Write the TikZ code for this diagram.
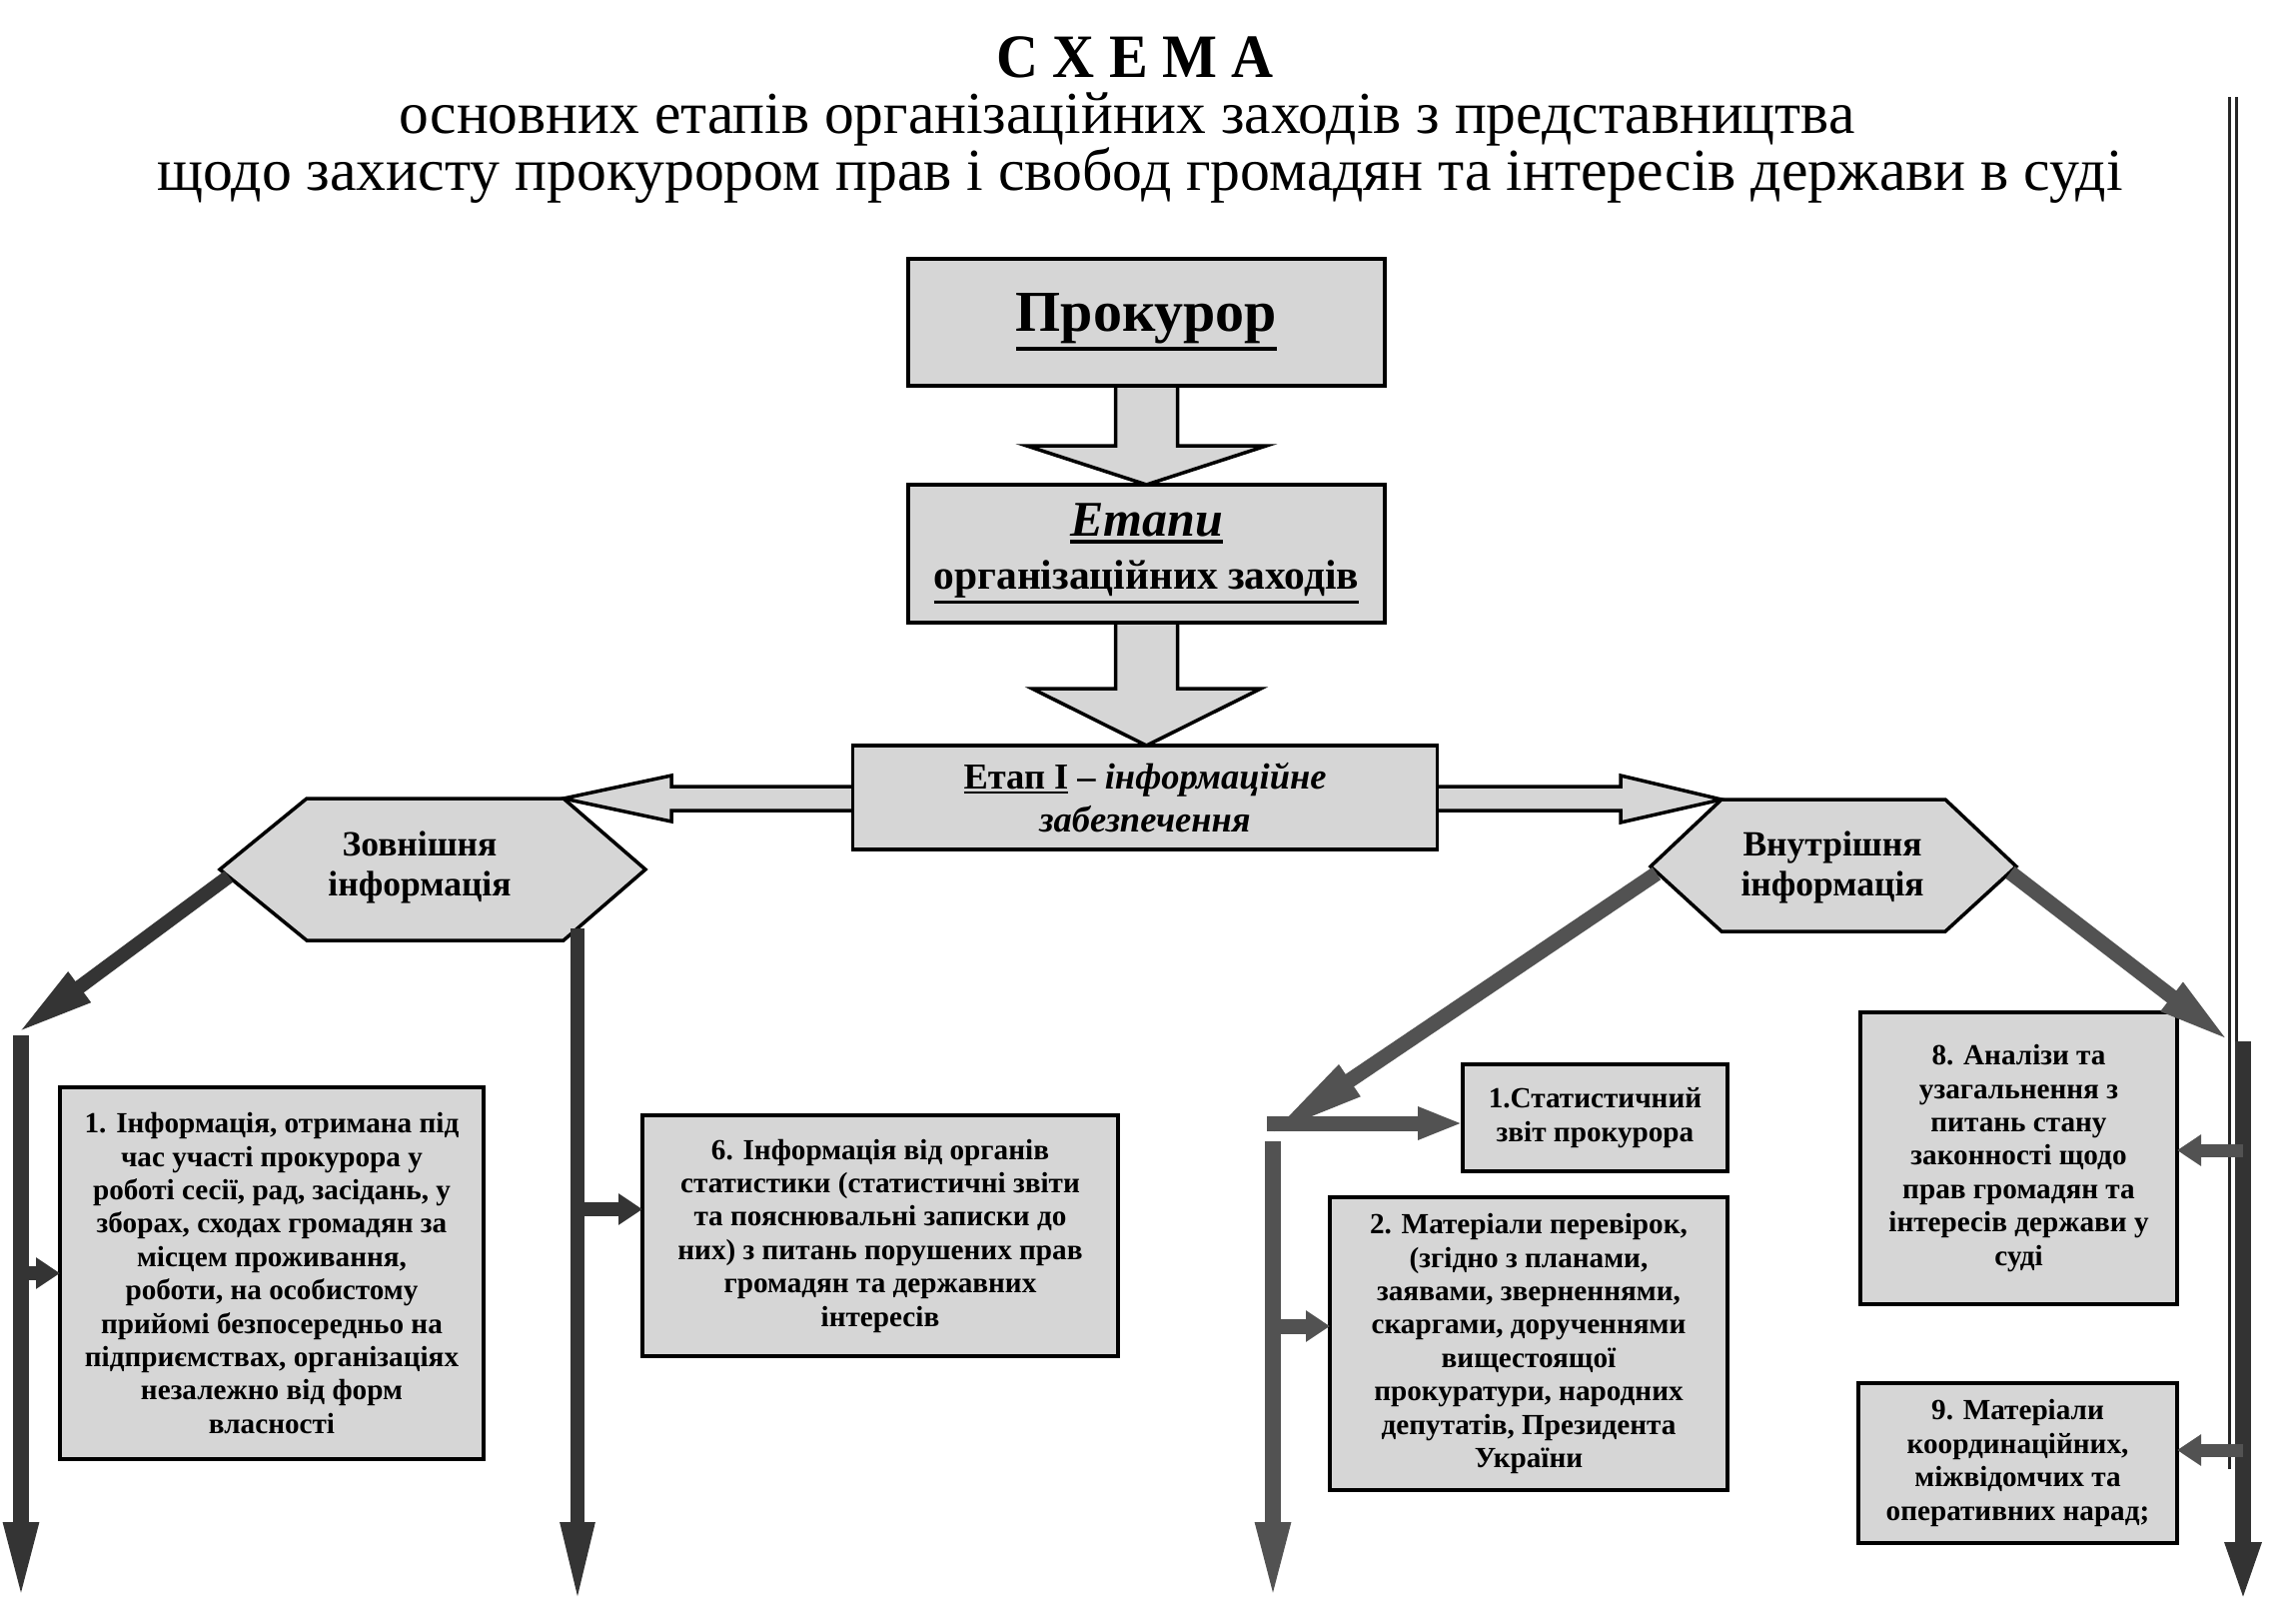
\documentclass[tikz,border=0pt]{standalone}
\usepackage{fontspec}
\setmainfont{Liberation Serif}
\usepackage{graphicx}
\usetikzlibrary{arrows.meta,calc}
\definecolor{boxgray}{RGB}{214,214,214}
\definecolor{lineL}{RGB}{52,52,52}
\definecolor{lineR}{RGB}{82,82,82}
\newcommand{\thul}[1]{\leavevmode\vtop{\hbox{#1}\kern0.05em\hrule height 0.07em}}
\tikzset{
  every node/.style={inner sep=0pt, outer sep=0pt},
  box/.style={draw=black, line width=3.5pt, fill=boxgray, align=center,
    font=\bfseries\fontsize{29.2}{33.4}\selectfont},
  hexa/.style={draw=black, line width=3.5pt, fill=boxgray, line join=miter},
  hextext/.style={align=center, font=\bfseries\fontsize{35.5}{39.5}\selectfont},
  blockarrow/.style={draw=black, line width=3.5pt, fill=boxgray, line join=miter},
  connL/.style={draw=lineL, line width=14pt},
  connR/.style={draw=lineR, line width=15pt},
  vtip/.style={-{Triangle[length=82pt,width=31pt]}},
  dtip/.style={-{Triangle[length=78pt,width=34pt]}},
  stip/.style={-{Triangle[length=24pt,width=30pt]}},
  ltip/.style={-{Triangle[length=45pt,width=30pt]}},
  thinline/.style={draw=black!85, line width=3pt}
}
\begin{document}
\begin{tikzpicture}[x=1pt,y=-1pt]
\fill[white] (0,0) rectangle (2298,1609);
\useasboundingbox (0,0) rectangle (2298,1609);

% titles
\node[anchor=base] (t1) at (1136,77) {\resizebox{278pt}{!}{\scalebox{1}[1.06]{\bfseries\fontsize{40}{48}\selectfont С Х Е М А}}};
\node[anchor=base] (t2) at (1128,133) {\resizebox{1457pt}{!}{\fontsize{40}{48}\selectfont основних етапів організаційних заходів з представництва}};
\node[anchor=base] (t3) at (1141,190) {\resizebox{1967pt}{!}{\fontsize{40}{48}\selectfont щодо захисту прокурором прав і свобод громадян та інтересів держави в суді}};

% block arrows (drawn before boxes)
\filldraw[blockarrow] (1116.5,380) -- (1116.5,446) -- (1027.5,446) -- (1147.5,485) -- (1267.5,446) -- (1178.5,446) -- (1178.5,380);
\filldraw[blockarrow] (1116.5,617) -- (1116.5,689) -- (1033,689) -- (1147.5,746) -- (1262,689) -- (1178.5,689) -- (1178.5,617);
\filldraw[blockarrow] (860,787) -- (672,787) -- (672,776) -- (564,799) -- (672,822) -- (672,811) -- (860,811);
\filldraw[blockarrow] (1432,787) -- (1622,787) -- (1622,776) -- (1723,800) -- (1622,823) -- (1622,811) -- (1432,811);

% upper boxes
\node[box, minimum width=477pt, minimum height=127pt, font=\bfseries\fontsize{58}{60}\selectfont] (prok) at (1147.5,322.5) {\thul{Прокурор}};
\node[box, minimum width=477pt, minimum height=138pt, font=\bfseries\fontsize{41.5}{53}\selectfont] (etapy) at (1147.5,554) {{\fontsize{50}{53}\selectfont\itshape\thul{Етапи}}\\\thul{організаційних заходів}};
\node[box, minimum width=585pt, minimum height=104pt, font=\bfseries\fontsize{36.5}{43}\selectfont] (etap1) at (1146,798) {\thul{Етап I} – \textit{інформаційне}\\\textit{забезпечення}};

% hexagons
\filldraw[hexa] (307,799) -- (564,799) -- (646,870) -- (564,941) -- (307,941) -- (220,870) -- cycle;
\node[hextext] (zov) at (420,868) {Зовнішня\\інформація};
\filldraw[hexa] (1723,800) -- (1947,800) -- (2018,867) -- (1947,932) -- (1723,932) -- (1652,867) -- cycle;
\node[hextext] (vnu) at (1834,868) {Внутрішня\\інформація};

% lower boxes
\node[box, minimum width=424pt, minimum height=372pt] (b1) at (272,1274) {1. Інформація, отримана під\\час участі прокурора у\\роботі сесії, рад, засідань, у\\зборах, сходах громадян за\\місцем проживання,\\роботи, на особистому\\прийомі безпосередньо на\\підприємствах, організаціях\\незалежно від форм\\власності};
\node[box, minimum width=476pt, minimum height=241pt] (b6) at (881,1236.5) {6. Інформація від органів\\статистики (статистичні звіти\\та пояснювальні записки до\\них) з питань порушених прав\\громадян та державних\\інтересів};
\node[box, minimum width=265pt, minimum height=107pt] (bst) at (1596.5,1118.5) {1.Статистичний\\звіт прокурора};
\node[box, minimum width=398pt, minimum height=293pt] (b2) at (1530,1344.5) {2. Матеріали перевірок,\\(згідно з планами,\\заявами, зверненнями,\\скаргами, дорученнями\\вищестоящої\\прокуратури, народних\\депутатів, Президента\\України};
\node[box, minimum width=317pt, minimum height=292pt] (b8) at (2020.5,1159) {8. Аналізи та\\узагальнення з\\питань стану\\законності щодо\\прав громадян та\\інтересів держави у\\суді};
\node[box, minimum width=319pt, minimum height=160pt] (b9) at (2019.5,1464) {9. Матеріали\\координаційних,\\міжвідомчих та\\оперативних нарад;};

% connector coordinates
\coordinate (zovL) at (229,877);
\coordinate (zovR) at (578,929);
\coordinate (lk) at (17,1034);
\coordinate (lv1t) at (21,1036);
\coordinate (lv1b) at (21,1605);
\coordinate (lv2b) at (578,1605);
\coordinate (vnuL) at (1658,874);
\coordinate (vnuR) at (2012,873);
\coordinate (rk) at (1268,1137);
\coordinate (rv1t) at (1274,1142);
\coordinate (rv1b) at (1274,1605);
\coordinate (bart) at (2245,1042);
\coordinate (barb) at (2245,1605);
\coordinate (dl1t) at (2231,97);
\coordinate (dl1b) at (2231,1470);
\coordinate (dl2t) at (2238,97);
\coordinate (dl2b) at (2238,1042);
\coordinate (rdk) at (2233,1043);

% left side connectors
\draw[connL, dtip] (zovL) -- (lk);
\draw[connL, line width=16pt, vtip] (lv1t) -- (lv1b);
\draw[connL, stip] (lv1t |- b1.west) -- (b1.west);
\draw[connL, vtip] (zovR) -- (lv2b);
\draw[connL, stip] (zovR |- 0,1210) -- (b6.west |- 0,1210);

% right side connectors
\draw[connR, -{Triangle[length=100pt,width=34pt]}] (vnuL) -- (rk);
\draw[connR, ltip] (rk |- 0,1124) -- (bst.west |- 0,1124);
\draw[connR, line width=16pt, vtip] (rv1t) -- (rv1b);
\draw[connR, stip] (rv1t |- 0,1327) -- (b2.west |- 0,1327);
\draw[connR, -{Triangle[length=75pt,width=32pt]}] (vnuR) -- (rdk);

% right double line and bar
\draw[thinline] (dl1t) -- (dl1b);
\draw[thinline] (dl2t) -- (dl2b);
\draw[draw=black!80, line width=16pt, -{Triangle[length=62pt,width=32pt]}] (bart) -- (barb);
\draw[connR, line width=13pt, stip] (bart |- 0,1151) -- (b8.east |- 0,1151);
\draw[connR, line width=13pt, stip] (bart |- 0,1451) -- (b9.east |- 0,1451);
\end{tikzpicture}
\end{document}
